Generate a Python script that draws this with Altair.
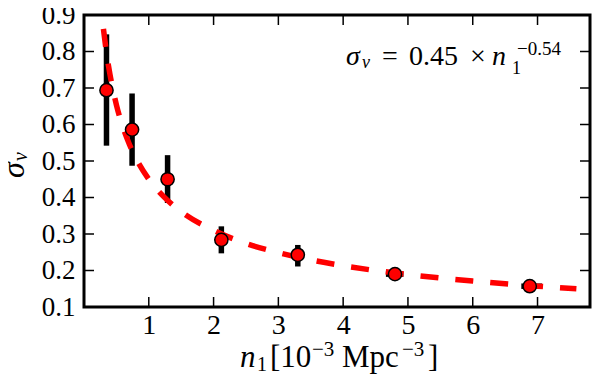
import altair as alt
import pandas as pd

# ---- data ----
n1 = [0.347, 0.742, 1.29, 2.12, 3.30, 4.80, 6.88]
sigma = [0.694, 0.586, 0.450, 0.284, 0.243, 0.190, 0.157]
sigma_lo = [0.542, 0.487, 0.385, 0.247, 0.211, 0.182, 0.150]
sigma_hi = [0.847, 0.685, 0.516, 0.321, 0.270, 0.198, 0.164]
n1_lo = [0.347, 0.742, 1.29, 2.12, 3.30, 4.66, 6.75]
n1_hi = [0.347, 0.742, 1.29, 2.12, 3.30, 4.93, 7.07]

fit_n = [0.30, 0.35, 0.40, 0.45, 0.50, 0.60, 0.70, 0.80, 1.00, 1.25, 1.50,
         2.00, 2.50, 3.00, 3.50, 4.00, 5.00, 6.00, 7.00, 7.60]
fit_s = [0.862, 0.793, 0.738, 0.693, 0.654, 0.593, 0.546, 0.508, 0.450, 0.399,
         0.361, 0.310, 0.274, 0.249, 0.229, 0.213, 0.189, 0.171, 0.157, 0.150]

x_ticks = [1, 2, 3, 4, 5, 6, 7]
y_ticks = [0.1, 0.2, 0.3, 0.4, 0.5, 0.6, 0.7, 0.8, 0.9]
inner_y_ticks = [0.2, 0.3, 0.4, 0.5, 0.6, 0.7, 0.8]

FONT = "Liberation Serif, Times New Roman, serif"
W, H = 506, 292

df = pd.DataFrame({"n1": n1, "sigma": sigma, "lo": sigma_lo, "hi": sigma_hi,
                   "xlo": n1_lo, "xhi": n1_hi})
fit = pd.DataFrame({"n": fit_n, "s": fit_s})
xt = pd.DataFrame({"t": x_ticks})
yt = pd.DataFrame({"t": inner_y_ticks})
one = pd.DataFrame({"k": [0]})

xs = alt.Scale(domain=[0, 7.81], nice=False, zero=False)
ys = alt.Scale(domain=[0.1, 0.9], nice=False, zero=False)

x_axis = alt.Axis(values=x_ticks, ticks=False, domain=False, grid=False,
                  labelFont=FONT, labelFontSize=28, labelPadding=4,
                  labelColor="black", title=None)
y_axis = alt.Axis(values=y_ticks, format=".1f", ticks=False, domain=False,
                  grid=False, labelFont=FONT, labelFontSize=27, labelPadding=9,
                  labelColor="black", title=None)

X = lambda f: alt.X(f, scale=xs, axis=x_axis)
Y = lambda f: alt.Y(f, scale=ys, axis=y_axis)

yerr = alt.Chart(df).mark_rule(color="black", strokeWidth=5.5).encode(
    x=X("n1:Q"), y=Y("lo:Q"), y2="hi:Q",
)
xerr = alt.Chart(df).mark_rule(color="black", strokeWidth=5.5).encode(
    x=X("xlo:Q"), x2="xhi:Q", y=Y("sigma:Q"),
)
fitline = alt.Chart(fit).mark_line(
    color="#ff0000", strokeWidth=5.5, strokeDash=[18, 17],
    interpolate="monotone", strokeCap="butt",
).encode(x=X("n:Q"), y=Y("s:Q"))
points = alt.Chart(df).mark_circle(
    color="#ff0000", stroke="black", strokeWidth=1.5, opacity=1, size=175
).encode(x=X("n1:Q"), y=Y("sigma:Q"))

def xtick(y0, y1):
    return alt.Chart(xt).mark_rule(color="black", strokeWidth=1.5).encode(
        x=X("t:Q"), y=alt.value(y0), y2=alt.value(y1))

def ytick(x0, x1):
    return alt.Chart(yt).mark_rule(color="black", strokeWidth=1.5).encode(
        y=Y("t:Q"), x=alt.value(x0), x2=alt.value(x1))

ticks = [xtick(H, H - 10), xtick(0, 10), ytick(0, 10), ytick(W, W - 10)]

def label(s, x, y, size, style="normal", align="left", angle=0):
    return alt.Chart(one).mark_text(
        text=s, font=FONT, fontSize=size, fontStyle=style, align=align,
        baseline="alphabetic", angle=angle, color="black",
    ).encode(x=alt.value(x), y=alt.value(y))

# text positions are relative to the plot's top-left corner (page x 84, y 15)
texts = [
    # annotation  sigma_v = 0.45 x n_1^{-0.54}
    label("σ", 262, 50, 28, "italic"),
    label("v", 278, 53, 18, "italic"),
    label("=", 298, 50, 28),
    label("0.45", 325, 50, 28),
    label("×", 386, 50, 28),
    label("n", 408, 50, 28, "italic"),
    label("1", 428, 59, 18),
    label("−0.54", 433, 40, 19),
    # x title  n_1 [10^{-3} Mpc^{-3}]
    label("n", 156, 352, 31, "italic"),
    label("1", 173, 356, 20),
    label("[10", 186, 352, 31),
    label("−3", 228, 341, 21),
    label("Mpc", 258, 352, 31),
    label("−3", 318, 341, 21),
    label("]", 344, 352, 31),
    # y title  sigma_v
    label("σ", -60, 163, 32, "italic", angle=270),
    label("v", -57, 146, 20, "italic", angle=270),
]

chart = alt.layer(yerr, xerr, fitline, points, *ticks, *texts).properties(
    width=W, height=H,
    padding={"left": 76, "top": 7, "right": 2, "bottom": 69},
    autosize=alt.AutoSizeParams(type="none"),
).configure_view(stroke="black", strokeWidth=3)

chart.save("out.html", embed_options={"renderer": "svg", "actions": False})
